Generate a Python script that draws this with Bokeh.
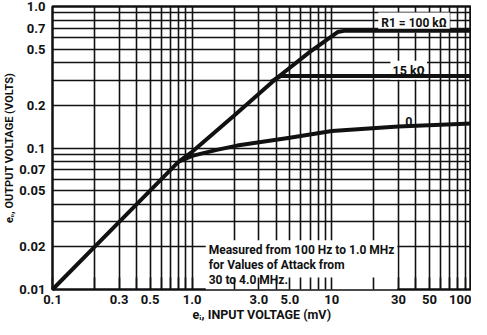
from bokeh.plotting import figure
from bokeh.models import FixedTicker, Label
from bokeh.embed import file_html
from bokeh.resources import INLINE

# ---- data ----
common_ei = [0.1, 0.2, 0.5, 0.8]
common_eo = [0.01, 0.02, 0.05, 0.08]

r100_ei = [0.8, 1.0, 2.0, 4.0, 7.0, 11.0, 12.5, 100.0]
r100_eo = [0.08, 0.094, 0.17, 0.31, 0.48, 0.66, 0.675, 0.675]

r15_ei = [3.7, 4.3, 100.0]
r15_eo = [0.295, 0.323, 0.323]

r0_ei = [0.8, 1.0, 1.5, 2.1, 5.0, 10.0, 30.0, 100.0]
r0_eo = [0.08, 0.088, 0.097, 0.104, 0.118, 0.132, 0.142, 0.149]

x_ticks = [0.1, 0.3, 0.5, 1.0, 3.0, 5.0, 10.0, 30.0, 50.0, 100.0]
x_labels = ["0.1", "0.3", "0.5", "1.0", "3.0", "5.0", "10", "30", "50", "100"]
x_minor = [0.2, 0.4, 0.6, 0.7, 0.8, 0.9, 2, 4, 6, 7, 8, 9, 20, 40, 60, 70, 80, 90]

y_ticks = [0.01, 0.02, 0.05, 0.07, 0.1, 0.2, 0.5, 0.7, 1.0]
y_labels = ["0.01", "0.02", "0.05", "0.07", "0.1", "0.2", "0.5", "0.7", "1.0"]
y_minor = [0.03, 0.04, 0.06, 0.08, 0.09, 0.3, 0.4, 0.6, 0.8, 0.9]

FONT = "Roboto"
INK = "#111111"

p = figure(width=471, height=325, x_axis_type="log", y_axis_type="log",
           x_range=(0.1, 100), y_range=(0.01, 1.0),
           output_backend="svg", toolbar_location=None,
           min_border_left=43, min_border_right=0, min_border_top=6, min_border_bottom=36)
p.background_fill_color = "white"
p.border_fill_color = "white"
p.outline_line_color = INK
p.outline_line_width = 2.5

for ax, ticks, labels, minor in ((p.xaxis[0], x_ticks, x_labels, x_minor),
                                 (p.yaxis[0], y_ticks, y_labels, y_minor)):
    ax.ticker = FixedTicker(ticks=ticks, minor_ticks=minor)
    ax.major_label_overrides = {t: l for t, l in zip(ticks, labels)}
    ax.axis_line_color = None
    ax.major_label_text_font = FONT
    ax.major_label_text_font_style = "bold"
    ax.major_label_text_font_size = "13px"
    ax.major_label_text_color = INK
    ax.axis_label_text_font = FONT
    ax.axis_label_text_font_style = "bold"
    ax.axis_label_text_color = INK

p.xaxis.axis_label = "e\u1d62, INPUT VOLTAGE (mV)"
p.yaxis.axis_label = "e\u2092, OUTPUT VOLTAGE (VOLTS)"
p.xaxis.axis_label_text_font_size = "12.5px"
p.yaxis.axis_label_text_font_size = "11px"
p.xaxis.axis_label_standoff = 0
p.yaxis.axis_label_standoff = 0

p.xaxis.major_tick_in = 12
p.xaxis.major_tick_out = 0
p.xaxis.minor_tick_in = 12
p.xaxis.minor_tick_out = 0
p.xaxis.major_tick_line_color = INK
p.xaxis.minor_tick_line_color = INK
p.xaxis.major_tick_line_width = 1.6
p.xaxis.minor_tick_line_width = 1.6
p.xaxis[0].level = "overlay"
p.xaxis.major_label_standoff = 5

p.yaxis.major_tick_line_color = None
p.yaxis.minor_tick_line_color = None
p.yaxis.major_label_standoff = 1

for g in (p.xgrid[0], p.ygrid[0]):
    g.grid_line_color = INK
    g.grid_line_width = 1.6
    g.minor_grid_line_color = INK
    g.minor_grid_line_width = 1.6

# curves (drawn above the white label boxes)
for xs, ys in ((common_ei, common_eo), (r100_ei, r100_eo), (r15_ei, r15_eo), (r0_ei, r0_eo)):
    r = p.line(xs, ys, line_color=INK, line_width=4)
    r.level = "overlay"

def lab(x, y, text, **kw):
    d = dict(text_font=FONT, text_font_style="bold", text_font_size="12.5px",
             text_color=INK, background_fill_color="white", padding=2)
    d.update(kw)
    p.add_layout(Label(x=x, y=y, text=text, **d))

lab(21.5, 0.77, "R1 = 100 k\u03a9", text_baseline="alphabetic", text_font_size="12px", padding=3)
lab(26.3, 0.355, "15 k\u03a9", text_baseline="alphabetic", padding=2)
lab(32.4, 0.1535, "0", text_baseline="alphabetic", padding=2)
lab(1.25, 0.0223, "Measured from 100 Hz to 1.0 MHz\nfor Values of Attack from\n30 to 4.0 MHz.",
    text_baseline="top", text_line_height=1.05, text_font_size="12px", padding=3)

open("out.html", "w").write(file_html(p, INLINE))
